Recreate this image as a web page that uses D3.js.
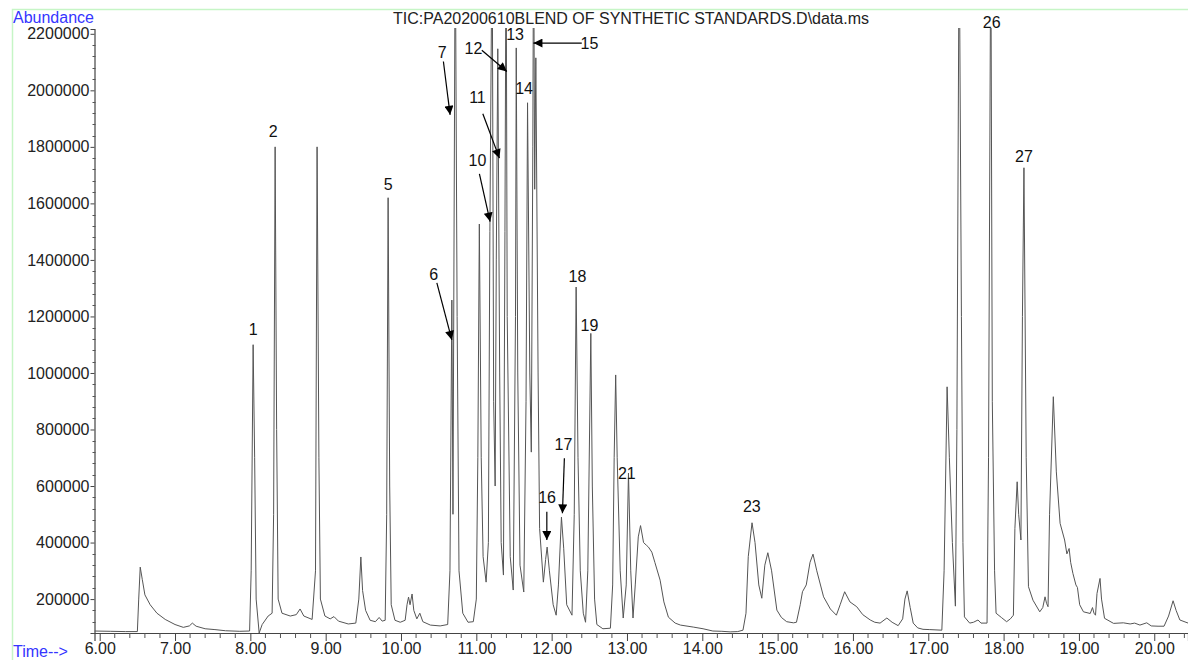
<!DOCTYPE html>
<html>
<head>
<meta charset="utf-8">
<style>
	body { margin: 0; background: #ffffff; }
	svg { display: block; font-family: 'Liberation Sans', Arial, sans-serif; }
	.tick text { font-size: 16px; fill: #222; }
	.peak { font-size: 16px; fill: #111; }
	.blue { font-size: 16px; fill: #3535ff; }
</style>
</head>
<body>
<svg width="1188" height="660"></svg>
<script src="https://d3js.org/d3.v7.min.js"></script>
<script>

// retention time (min) of each point of the TIC trace
var times = [
	5.93, 6.14, 6.34, 6.50, 6.518, 6.538, 6.565, 6.60, 6.67, 6.76, 6.87, 7.00, 7.11, 7.19, 7.23, 7.28, 7.40, 7.53, 7.67, 7.86, 7.99,
	8.011, 8.037, 8.057, 8.077, 8.117, 8.157, 8.236, 8.289, 8.309, 8.329, 8.349, 8.369, 8.42, 8.53, 8.61, 8.66, 8.71, 8.82,
	8.865, 8.886, 8.91, 8.93, 8.99, 9.06, 9.11, 9.17, 9.30, 9.40, 9.44, 9.467, 9.49, 9.53, 9.59, 9.66, 9.71, 9.75, 9.79,
	9.81, 9.829, 9.85, 9.87, 9.92, 9.99, 10.055, 10.08, 10.10, 10.12, 10.147, 10.17, 10.21, 10.25, 10.29, 10.39, 10.52, 10.62,
	10.65, 10.675, 10.69, 10.72, 10.745, 10.77, 10.82, 10.89, 10.96, 11.00, 11.02, 11.04, 11.065, 11.09, 11.13, 11.16,
	11.18, 11.21, 11.23, 11.25, 11.265, 11.285, 11.31, 11.33, 11.36, 11.38, 11.395, 11.41, 11.45, 11.49, 11.52, 11.53,
	11.55, 11.58, 11.63, 11.66, 11.68, 11.71, 11.73, 11.75, 11.76, 11.775, 11.79, 11.82, 11.84, 11.89, 11.92, 11.94,
	11.97, 12.02, 12.06, 12.09, 12.13, 12.16, 12.20, 12.27, 12.30, 12.325, 12.35, 12.38, 12.42, 12.45, 12.48, 12.52,
	12.54, 12.57, 12.60, 12.68, 12.78, 12.81, 12.83, 12.85, 12.87, 12.91, 12.95, 12.99, 13.02, 13.05, 13.08, 13.11,
	13.15, 13.18, 13.22, 13.26, 13.285, 13.33, 13.37, 13.44, 13.49, 13.55, 13.64, 13.71, 13.88, 14.01, 14.14, 14.26,
	14.37, 14.47, 14.54, 14.58, 14.61, 14.66, 14.70, 14.75, 14.79, 14.83, 14.87, 14.92, 14.99, 15.05, 15.12, 15.21,
	15.25, 15.30, 15.33, 15.38, 15.43, 15.47, 15.52, 15.61, 15.70, 15.78, 15.83, 15.89, 15.96, 16.05, 16.13, 16.23,
	16.29, 16.36, 16.45, 16.52, 16.60, 16.66, 16.69, 16.72, 16.76, 16.80, 16.86, 16.93, 17.02, 17.18, 17.21, 17.25,
	17.28, 17.32, 17.36, 17.38, 17.41, 17.44, 17.46, 17.48, 17.55, 17.60, 17.66, 17.70, 17.78, 17.80, 17.83, 17.85,
	17.88, 17.90, 17.97, 18.04, 18.09, 18.13, 18.15, 18.18, 18.20, 18.23, 18.25, 18.27, 18.30, 18.33, 18.39, 18.48,
	18.52, 18.55, 18.57, 18.59, 18.61, 18.66, 18.70, 18.75, 18.81, 18.84, 18.87, 18.89, 18.92, 18.96, 18.98, 19.01,
	19.06, 19.15, 19.18, 19.20, 19.22, 19.24, 19.28, 19.30, 19.34, 19.46, 19.59, 19.68, 19.74, 19.81, 19.90, 19.96,
	20.05, 20.13, 20.19, 20.25, 20.29, 20.34, 20.45
];

// abundance read at each of those times
var abundance = [
	87000, 86000, 85000, 85000, 200000, 313000, 270000, 215000, 180000, 150000, 128000, 110000, 100000, 105000, 115000, 104000, 95000, 92000, 88000, 86000, 87000,
	300000, 1100000, 700000, 200000, 80000, 110000, 140000, 150000, 500000, 1800000, 800000, 200000, 150000, 140000, 145000, 165000, 140000, 128000,
	300000, 1800000, 700000, 200000, 140000, 130000, 138000, 122000, 112000, 115000, 200000, 349000, 230000, 160000, 125000, 120000, 135000, 122000, 125000,
	500000, 1620000, 600000, 180000, 125000, 118000, 125000, 180000, 207000, 180000, 218000, 160000, 130000, 150000, 120000, 108000, 105000, 110000,
	300000, 1258000, 500000, 2600000, 1200000, 300000, 150000, 118000, 120000, 200000, 700000, 1527000, 700000, 350000, 260000, 400000,
	1500000, 2600000, 900000, 600000, 1400000, 2147000, 1000000, 400000, 285000, 1500000, 2600000, 1200000, 350000, 232000, 1200000, 2150000,
	1000000, 320000, 225000, 900000, 1956000, 1000000, 720000, 1800000, 2600000, 1650000, 2115000, 1000000, 450000, 260000, 340000, 384000,
	300000, 180000, 143000, 250000, 490000, 380000, 180000, 143000, 500000, 1304000, 700000, 300000, 150000, 118000, 300000, 1140000,
	600000, 200000, 110000, 95000, 97000, 250000, 700000, 993000, 700000, 300000, 133000, 250000, 646000, 300000, 133000, 250000,
	420000, 460000, 400000, 390000, 384000, 366000, 330000, 267000, 190000, 136000, 115000, 108000, 101000, 95000, 87000, 86000,
	84000, 85000, 90000, 150000, 350000, 470000, 400000, 250000, 203000, 320000, 364000, 300000, 161000, 135000, 120000, 116000,
	118000, 180000, 226000, 250000, 330000, 359000, 300000, 208000, 165000, 143000, 180000, 226000, 190000, 173000, 145000, 126000,
	118000, 115000, 133000, 118000, 106000, 130000, 200000, 229000, 170000, 115000, 98000, 93000, 92000, 90000, 300000, 951000,
	700000, 400000, 175000, 800000, 2600000, 1200000, 400000, 137000, 115000, 118000, 126000, 115000, 115000, 700000, 2600000, 900000,
	300000, 150000, 135000, 120000, 130000, 143000, 450000, 615000, 500000, 409000, 1200000, 1726000, 700000, 244000, 196000, 155000,
	170000, 208000, 185000, 173000, 500000, 916000, 650000, 468000, 409000, 360000, 379000, 330000, 291000, 250000, 241000, 180000,
	155000, 149000, 170000, 150000, 143000, 220000, 273000, 200000, 132000, 114000, 116000, 112000, 115000, 108000, 116000, 105000,
	104000, 104000, 140000, 194000, 160000, 126000, 115000
];

// peak numbers and where their text sits (time, abundance)
var peakNames = ["1", "2", "5", "6", "7", "10", "11", "12", "13", "14", "15", "16", "17", "18", "19", "21", "23", "26", "27"];
var peakLabelTime = [8.037, 8.303, 9.829, 10.433, 10.546, 11.015, 11.015, 10.961, 11.515, 11.634, 12.501, 11.940, 12.156, 12.342, 12.501, 12.998, 14.657, 17.842, 18.271];
var peakLabelAbund = [1156000, 1857000, 1669000, 1350000, 2136000, 1752000, 1976000, 2150000, 2197000, 2008000, 2167000, 560000, 749000, 1343000, 1170000, 647000, 530000, 2240000, 1768000];

// arrows: start (time, abundance) -> tip (time, abundance)
var arrowFromTime = [10.476, 10.563, 11.041, 11.086, 11.073, 12.400, 11.936, 12.169];
var arrowFromAbund = [1318600, 2102000, 1704500, 1916900, 2142000, 2167200, 509000, 698100];
var arrowToTime = [10.675, 10.652, 11.183, 11.307, 11.405, 11.758, 11.936, 12.143];
var arrowToAbund = [1116900, 1913400, 1535600, 1760100, 2066600, 2167200, 408900, 503400];

var yTicks = [200000, 400000, 600000, 800000, 1000000, 1200000, 1400000, 1600000, 1800000, 2000000, 2200000];
var xTicks = [6, 7, 8, 9, 10, 11, 12, 13, 14, 15, 16, 17, 18, 19, 20];
var title = "TIC:PA20200610BLEND OF SYNTHETIC STANDARDS.D\\data.ms";

var svg = d3.select("svg"),
margin = {
	top: 29,
	right: 0,
	bottom: 27,
	left: 94.5
},
width = +svg.attr("width") - margin.left - margin.right,
height = +svg.attr("height") - margin.top - margin.bottom;

var x = d3.scaleLinear()
	.domain([5.931, 20.448])
	.range([margin.left, margin.left + width]);

var y = d3.scaleLinear()
	.domain([80000, 2217000])
	.range([margin.top + height, margin.top]);

// light green frame
svg.append("rect")
	.attr("x", 12.5)
	.attr("y", 9.5)
	.attr("width", 1200)
	.attr("height", 700)
	.attr("fill", "none")
	.attr("stroke", "#c6f5c6")
	.attr("stroke-width", 1.5);

svg.append("defs").append("clipPath")
	.attr("id", "plot")
	.append("rect")
	.attr("x", margin.left)
	.attr("y", margin.top - 1)
	.attr("width", width)
	.attr("height", height + 1);

svg.append("marker")
	.attr("id", "head")
	.attr("markerUnits", "userSpaceOnUse")
	.attr("viewBox", "0 0 10 10")
	.attr("refX", 10)
	.attr("refY", 5)
	.attr("markerWidth", 10)
	.attr("markerHeight", 9)
	.attr("orient", "auto")
	.append("path")
	.attr("d", "M0,0L10,5L0,10Z")
	.attr("fill", "#000");

// axes
var yAxis = svg.append("g")
	.attr("transform", "translate(" + margin.left + ",0)")
	.call(d3.axisLeft(y).tickValues(yTicks).tickSize(4).tickPadding(1).tickFormat(d3.format("d")));

yAxis.append("g")
	.selectAll("line")
	.data(d3.range(80000, 2217000, 40000).filter(function (d) { return d % 200000 !== 0; }))
	.enter().append("line")
	.attr("x1", -2)
	.attr("x2", 1)
	.attr("y1", function (d) { return Math.round(y(d)) + 0.5; })
	.attr("y2", function (d) { return Math.round(y(d)) + 0.5; })
	.attr("stroke", "#555");

var xAxis = svg.append("g")
	.attr("transform", "translate(0," + (margin.top + height) + ")")
	.call(d3.axisBottom(x).tickValues(xTicks).tickSize(8).tickPadding(2).tickFormat(d3.format(".2f")));

xAxis.append("g")
	.selectAll("line")
	.data(d3.range(30, 103).map(function (i) { return i / 5; }).filter(function (d) { return Math.abs(d - Math.round(d)) > 0.01; }))
	.enter().append("line")
	.attr("x1", function (d) { return x(d); })
	.attr("x2", function (d) { return x(d); })
	.attr("y1", 0)
	.attr("y2", 5)
	.attr("stroke", "#555");

svg.selectAll(".domain").attr("stroke", "#444").attr("stroke-width", 1.2);
svg.selectAll(".tick line").attr("stroke", "#444");
svg.selectAll(".tick text").attr("font-size", null).attr("font-family", null);

// the TIC trace
var points = times.map(function (t, i) { return [t, abundance[i]]; });

svg.append("path")
	.datum(points)
	.attr("clip-path", "url(#plot)")
	.attr("fill", "none")
	.attr("stroke", "#555")
	.attr("stroke-width", 1)
	.attr("stroke-linejoin", "round")
	.attr("d", d3.line()
		.x(function (d) { return x(d[0]); })
		.y(function (d) { return y(d[1]); }));

// arrows
svg.selectAll(".arrow")
	.data(arrowFromTime)
	.enter().append("line")
	.attr("class", "arrow")
	.attr("x1", function (d, i) { return x(arrowFromTime[i]); })
	.attr("y1", function (d, i) { return y(arrowFromAbund[i]); })
	.attr("x2", function (d, i) { return x(arrowToTime[i]); })
	.attr("y2", function (d, i) { return y(arrowToAbund[i]); })
	.attr("stroke", "#000")
	.attr("stroke-width", 1.2)
	.attr("marker-end", "url(#head)");

// peak numbers
svg.selectAll(".peak")
	.data(peakNames)
	.enter().append("text")
	.attr("class", "peak")
	.attr("x", function (d, i) { return x(peakLabelTime[i]); })
	.attr("y", function (d, i) { return y(peakLabelAbund[i]); })
	.attr("dy", "0.36em")
	.attr("text-anchor", "middle")
	.text(function (d) { return d; });

// titles
svg.append("text")
	.attr("class", "blue")
	.attr("x", 13)
	.attr("y", 23)
	.text("Abundance");

svg.append("text")
	.attr("class", "blue")
	.attr("x", 13)
	.attr("y", 657)
	.text("Time-->");

svg.append("text")
	.attr("class", "peak")
	.attr("x", 393)
	.attr("y", 24)
	.style("fill", "#222")
	.text(title);

</script>
</body>
</html>
